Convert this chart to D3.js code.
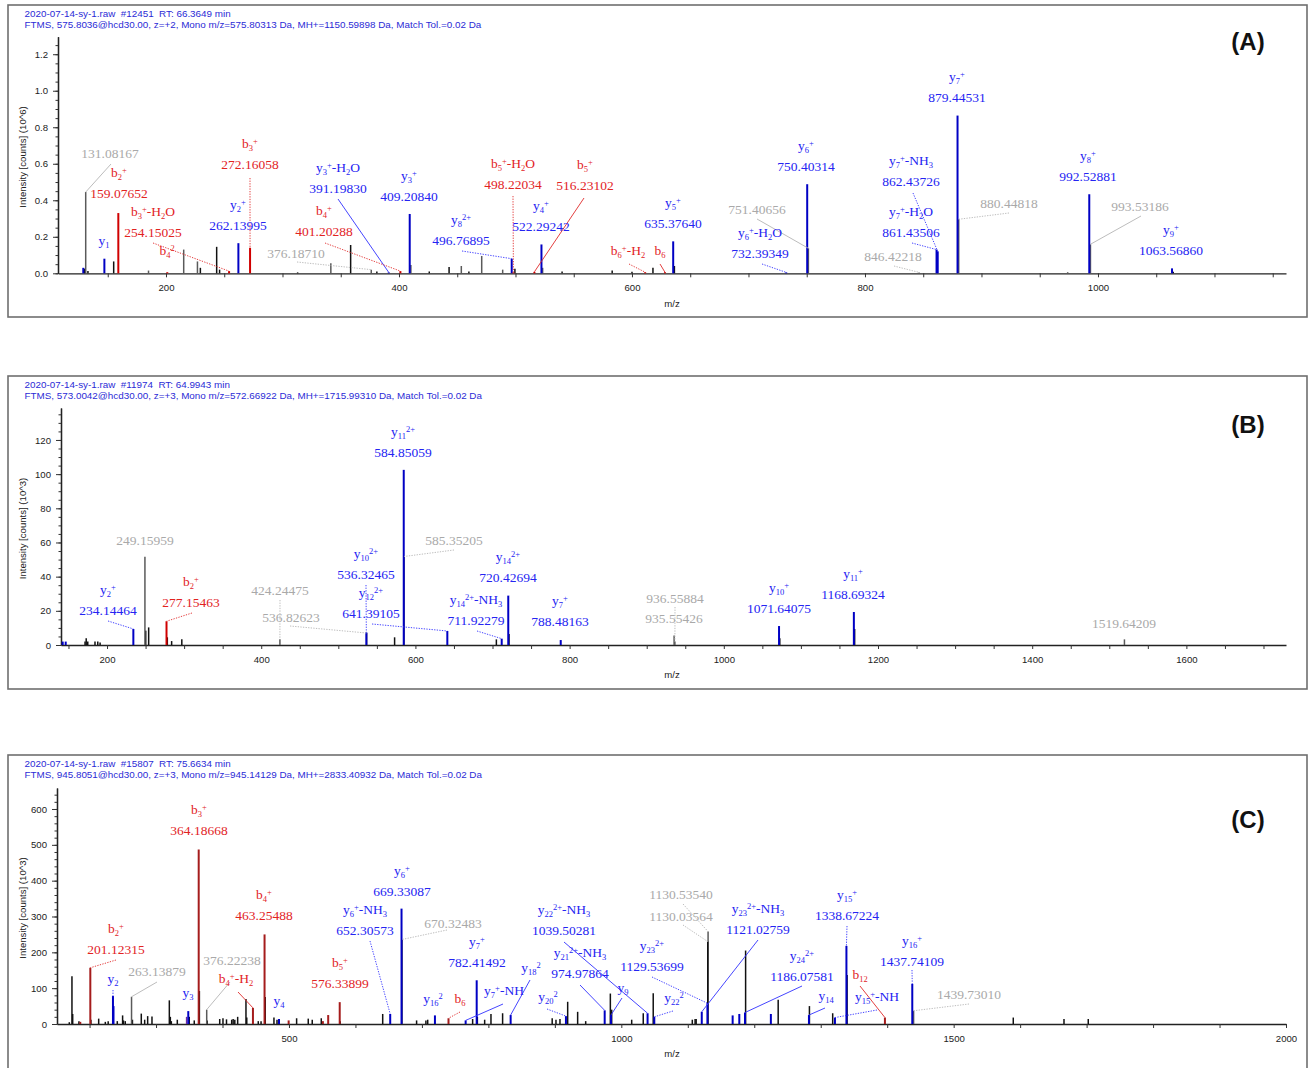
<!DOCTYPE html>
<html>
<head>
<meta charset="utf-8">
<script src="https://cdn.jsdelivr.net/npm/d3@7"></script>
<style>
  body { margin: 0; background: #fff; }
  svg { display: block; }
  .hdr { white-space: pre; }
</style>
</head>
<body>
<svg id="chart" width="1309" height="1068"></svg>
<script>
// ===================== Spectrum data =====================
// Ion rows: [ion name, stated m/z, m/z (when no value is printed), intensity, ion type]
// Ion types: y = y-ion, b = b-ion, g = unassigned labelled peak, o = unassigned peak, p = other match

// ---- Spectrum A (intensity in 10^6 counts) ----
const headerA = ["2020-07-14-sy-1.raw  #12451  RT: 66.3649 min",
  "FTMS, 575.8036@hcd30.00, z=+2, Mono m/z=575.80313 Da, MH+=1150.59898 Da, Match Tol.=0.02 Da"];
const xDomainA = [107.3, 1161.4];
const yDomainA = [0, 1.296];
const xTickLabelsA = [200, 400, 600, 800, 1000];
const yTickLabelsA = [0.0, 0.2, 0.4, 0.6, 0.8, 1.0, 1.2];
const ionsA = [
  ["", "131.08167", null, 0.445, "g"],
  ["b_{2}^{+}", "159.07652", null, 0.33, "b"],
  ["y_{1}", "", 147.11, 0.08, "y"],
  ["b_{3}^{+}-H_{2}O", "254.15025", null, 0.012, "b"],
  ["b_{4}^{2}", "", 201.1, 0.006, "b"],
  ["b_{3}^{+}", "272.16058", null, 0.14, "b"],
  ["y_{2}^{+}", "262.13995", null, 0.165, "y"],
  ["y_{3}^{+}-H_{2}O", "391.19830", null, 0.005, "y"],
  ["y_{3}^{+}", "409.20840", null, 0.325, "y"],
  ["b_{4}^{+}", "401.20288", null, 0.012, "b"],
  ["", "376.18710", null, 0.02, "g"],
  ["y_{8}^{2+}", "496.76895", null, 0.08, "y"],
  ["b_{5}^{+}-H_{2}O", "498.22034", null, 0.005, "b"],
  ["b_{5}^{+}", "516.23102", null, 0.008, "b"],
  ["y_{4}^{+}", "522.29242", null, 0.158, "y"],
  ["b_{6}^{+}-H_{2}", "", 611.3, 0.006, "b"],
  ["b_{6}", "", 628.3, 0.006, "b"],
  ["y_{5}^{+}", "635.37640", null, 0.175, "y"],
  ["y_{6}^{+}", "750.40314", null, 0.488, "y"],
  ["", "751.40656", null, 0.137, "g"],
  ["y_{6}^{+}-H_{2}O", "732.39349", null, 0.005, "y"],
  ["", "846.42218", null, 0.005, "g"],
  ["y_{7}^{+}-NH_{3}", "862.43726", null, 0.12, "y"],
  ["y_{7}^{+}-H_{2}O", "861.43506", null, 0.13, "y"],
  ["y_{7}^{+}", "879.44531", null, 0.864, "y"],
  ["", "880.44818", null, 0.296, "g"],
  ["y_{8}^{+}", "992.52881", null, 0.433, "y"],
  ["", "993.53186", null, 0.159, "g"],
  ["y_{9}^{+}", "1063.56860", null, 0.027, "y"]
];
// unlabelled peaks: [m/z, intensity, ion type]
const peaksA = [
  [129, 0.03, "y"], [130.2, 0.025, "o"], [133, 0.012, "o"], [155.1, 0.065, "o"], [185, 0.015, "g"],
  [215.2, 0.13, "g"], [227, 0.065, "g"], [229.5, 0.03, "o"], [243.5, 0.145, "o"], [246, 0.02, "o"],
  [313, 0.005, "o"], [341.5, 0.055, "g"], [358.5, 0.155, "o"], [381, 0.01, "o"], [410.2, 0.045, "g"],
  [426, 0.01, "o"], [443, 0.035, "o"], [453.5, 0.04, "g"], [460, 0.01, "o"], [471, 0.095, "g"],
  [489, 0.02, "g"], [499.5, 0.025, "o"], [523.3, 0.03, "g"], [540, 0.01, "o"], [583, 0.015, "o"],
  [600, 0.008, "o"], [618, 0.03, "o"], [636.4, 0.04, "o"], [974, 0.006, "g"], [1064.6, 0.008, "o"]
];

// ---- Spectrum B (intensity in 10^3 counts) ----
const headerB = ["2020-07-14-sy-1.raw  #11974  RT: 64.9943 min",
  "FTMS, 573.0042@hcd30.00, z=+3, Mono m/z=572.66922 Da, MH+=1715.99310 Da, Match Tol.=0.02 Da"];
const xDomainB = [140.3, 1729.2];
const yDomainB = [0, 138.7];
const xTickLabelsB = [200, 400, 600, 800, 1000, 1200, 1400, 1600];
const yTickLabelsB = [0, 20, 40, 60, 80, 100, 120];
const ionsB = [
  ["y_{2}^{+}", "234.14464", null, 9.4, "y"],
  ["", "249.15959", null, 51.7, "g"],
  ["b_{2}^{+}", "277.15463", null, 13.9, "b"],
  ["", "424.24475", null, 3.3, "g"],
  ["", "536.82623", null, 7, "g"],
  ["y_{10}^{2+}", "536.32465", null, 7.4, "y"],
  ["", "585.35205", null, 51.8, "g"],
  ["y_{11}^{2+}", "584.85059", null, 102.5, "y"],
  ["y_{12}^{2+}", "641.39105", null, 8.2, "y"],
  ["y_{14}^{2+}", "720.42694", null, 28.9, "y"],
  ["y_{14}^{2+}-NH_{3}", "711.92279", null, 3.7, "y"],
  ["y_{7}^{+}", "788.48163", null, 2.9, "y"],
  ["", "936.55884", null, 2, "g"],
  ["", "935.55426", null, 5.5, "g"],
  ["y_{10}^{+}", "1071.64075", null, 11.1, "y"],
  ["y_{11}^{+}", "1168.69324", null, 19.3, "y"],
  ["", "1519.64209", null, 3.3, "g"]
];
const peaksB = [
  [142.5, 2, "y"], [146.4, 2, "y"], [171.5, 2, "o"], [173, 4, "o"], [175, 2, "o"], [184.4, 2, "o"],
  [188, 2, "o"], [191, 1.5, "o"], [250.2, 8.4, "o"], [254, 10.3, "o"], [278.2, 4.5, "o"],
  [283.8, 2.3, "o"], [297, 3.3, "o"], [573, 4.5, "o"], [705, 3.3, "o"], [721.4, 6.4, "o"],
  [1072.6, 4, "o"], [1169.7, 9.4, "o"]
];

// ---- Spectrum C (intensity in 10^3 counts) ----
const headerC = ["2020-07-14-sy-1.raw  #15807  RT: 75.6634 min",
  "FTMS, 945.8051@hcd30.00, z=+3, Mono m/z=945.14129 Da, MH+=2833.40932 Da, Match Tol.=0.02 Da"];
const xDomainC = [151, 2000];
const yDomainC = [0, 658.6];
const xTickLabelsC = [500, 1000, 1500, 2000];
const yTickLabelsC = [0, 100, 200, 300, 400, 500, 600];
const ionsC = [
  ["b_{3}^{+}", "364.18668", null, 487, "b"],
  ["b_{2}^{+}", "201.12315", null, 157, "b"],
  ["", "263.13879", null, 76, "g"],
  ["y_{2}", "", 235.2, 78, "y"],
  ["", "376.22238", null, 40, "g"],
  ["y_{3}", "", 348.5, 36, "y"],
  ["b_{4}^{+}-H_{2}", "", 445.8, 45, "b"],
  ["b_{4}^{+}", "463.25488", null, 250, "b"],
  ["y_{4}", "", 485, 14, "y"],
  ["b_{5}^{+}", "576.33899", null, 61, "b"],
  ["y_{6}^{+}-NH_{3}", "652.30573", null, 28, "y"],
  ["y_{6}^{+}", "669.33087", null, 322, "y"],
  ["", "670.32483", null, 236, "g"],
  ["y_{7}^{+}", "782.41492", null, 122, "y"],
  ["y_{16}^{2}", "", 719.6, 24, "y"],
  ["b_{6}", "", 740, 16, "b"],
  ["y_{7}^{+}-NH", "", 765.8, 10, "y"],
  ["y_{18}^{2}", "", 833.5, 25, "y"],
  ["y_{20}^{2}", "", 916.7, 22, "y"],
  ["y_{22}^{2+}-NH_{3}", "1039.50281", null, 30, "y"],
  ["y_{21}^{2+}-NH_{3}", "974.97864", null, 38, "y"],
  ["y_{9}", "", 984.4, 25, "y"],
  ["y_{23}^{2+}", "1129.53699", null, 58, "y"],
  ["y_{22}^{2}", "", 1049.6, 20, "y"],
  ["", "1130.53540", null, 258, "g"],
  ["", "1130.03564", null, 230, "o"],
  ["y_{23}^{2+}-NH_{3}", "1121.02759", null, 34, "y"],
  ["y_{24}^{2+}", "1186.07581", null, 32, "y"],
  ["y_{14}", "", 1282.3, 25, "y"],
  ["y_{15}^{+}", "1338.67224", null, 218, "y"],
  ["b_{12}", "", 1396.6, 18, "b"],
  ["y_{15}^{+}-NH", "", 1321.4, 18, "y"],
  ["y_{16}^{+}", "1437.74109", null, 112, "y"],
  ["", "1439.73010", null, 37, "g"]
];
const peaksC = [
  [169.5, 5, "o"], [173.5, 133, "o"], [174.6, 28, "o"], [184, 8, "o"], [186, 6, "b"], [202, 12, "o"],
  [213.7, 15, "o"], [223.7, 6, "o"], [228, 8, "o"], [236, 50, "y"], [241.7, 8, "o"], [249.7, 24, "o"],
  [251, 10, "o"], [253.7, 8, "o"], [264.5, 12, "o"], [277.8, 29, "o"], [282.9, 12, "o"], [287.4, 22, "o"],
  [293.9, 21, "o"], [320, 66, "o"], [321.5, 20, "o"], [323, 8, "o"], [332, 12, "o"], [346, 20, "p"],
  [350, 20, "o"], [357.5, 10, "o"], [365.2, 92, "o"], [377, 10, "o"], [395.8, 14, "o"], [400.7, 16, "o"],
  [406, 13, "o"], [413.8, 12, "o"], [416, 14, "o"], [418.5, 12, "o"], [422.8, 20, "o"], [435.3, 70, "o"],
  [436.5, 18, "o"], [453.8, 8, "o"], [458, 8, "o"], [464.3, 75, "o"], [477.4, 18, "o"], [482, 12, "o"],
  [499.5, 10, "b"], [511.5, 16, "o"], [529, 15, "o"], [535, 12, "o"], [548.6, 16, "o"], [551, 8, "b"],
  [559, 25, "b"], [577, 8, "o"], [641, 28, "o"], [692, 10, "o"], [706, 10, "o"], [708.7, 12, "o"],
  [776.3, 14, "o"], [783.4, 20, "o"], [794.4, 12, "o"], [803.9, 28, "o"], [821.4, 30, "o"], [896, 16, "o"],
  [901.7, 12, "o"], [907.7, 14, "o"], [919.3, 62, "o"], [934.3, 34, "o"], [946.4, 8, "o"], [983.5, 85, "o"],
  [985.5, 40, "o"], [1015.6, 12, "o"], [1033, 30, "o"], [1048, 86, "o"], [1106.8, 12, "o"], [1111, 14, "o"],
  [1112.6, 14, "o"], [1167.5, 24, "y"], [1177.5, 28, "y"], [1187, 205, "o"], [1225, 28, "y"], [1236, 68, "o"],
  [1283, 50, "o"], [1318, 30, "o"], [1339.67, 137, "o"], [1589.7, 18, "o"], [1666, 14, "o"], [1702.5, 14, "o"]
];

// ===================== Layout =====================
// annotation placement per ion row: [label centre x, first line centre y, leader start x, leader start y, dotted]
const placeA = [
  [110,153,111,164,0],[119,177],[104,245],[153,216,153,243,1],[167,255],[250,148,250,178,1],
  [238,209],[338,172,338,199,0],[409,180],[324,215,325,243,1],[296,253,297,262,1],[461,224,462,251,1],
  [513,168,513,196,1],[585,169,584,198,0],[541,210],[628,255,629,264,1],[660,255,660,264,0],[673,207],
  [806,150],[757,209,757,219,0],[760,237,762,264,1],[893,256,894,266,1],[911,165,913,193,1],
  [911,216,912,243,1],[957,81],[1009,203,1009,213,1],[1088,160],[1140,206,1141,216,0],[1171,234]
];
const placeB = [
  [108,594,108,621,1],[145,540],[191,586,192,613,1],[280,590,280,600,1],[291,617,290,626,1],
  [366,558,366,585,1],[454,540,454,550,1],[403,436],[371,597,372,624,1],[508,561],[476,604,477,631,1],
  [560,605],[675,598,675,607,1],[674,618],[779,592],[853,578],[1124,623]
];
const placeC = [
  [199,814],[116,933,116,960,1],[157,971,157,982,0],[113,983,113,990,1],[232,960,230,982,0],[188,997],
  [236,983,238,992,0],[264,899],[279,1005],[340,967],[365,914,370,941,1],[402,875],[453,923,447,930,1],
  [477,946],[433,1003],[460,1003,460,1012,1],[504,995,503,1004,0],[531,972,530,980,0],[548,1001,547,1009,1],
  [564,914,564,942,0],[580,957,580,985,0],[623,992,622,998,0],[652,950,652,977,1],[674,1002,673,1011,1],
  [681,894,683,904,1],[681,916,683,925,1],[758,913,758,940,0],[802,960,802,986,0],[826,1000,825,1008,0],
  [847,899,847,926,1],[860,979,860,986,0],[877,1001,877,1010,1],[912,945,912,970,1],[969,994,969,1004,1]
];

const panels = [
  { tag: "(A)", header: headerA, xDomain: xDomainA, yDomain: yDomainA, xLabels: xTickLabelsA, yLabels: yTickLabelsA,
    ions: ionsA, peaks: peaksA, place: placeA, unit: "(10^6)", tagY: 42,
    frame: [8, 5, 1299, 312], xRange: [58, 1286], yRange: [273.3, 36.7],
    xMinor: 50, yMinor: 0.05, yFmt: ".1f", bColor: "#d00000" },
  { tag: "(B)", header: headerB, xDomain: xDomainB, yDomain: yDomainB, xLabels: xTickLabelsB, yLabels: yTickLabelsB,
    ions: ionsB, peaks: peaksB, place: placeB, unit: "(10^3)", tagY: 425,
    frame: [8, 376, 1299, 313], xRange: [61, 1286], yRange: [645, 408],
    xMinor: 50, yMinor: 5, yFmt: "d", bColor: "#d00000" },
  { tag: "(C)", header: headerC, xDomain: xDomainC, yDomain: yDomainC, xLabels: xTickLabelsC, yLabels: yTickLabelsC,
    ions: ionsC, peaks: peaksC, place: placeC, unit: "(10^3)", tagY: 820,
    frame: [8, 755, 1299, 330], xRange: [57, 1286], yRange: [1024, 788],
    xMinor: 100, yMinor: 20, yFmt: "d", bColor: "#a51c1c" }
];

const labelColor = { y: "#2424f2", b: "#e2231f", g: "#a9a9a9", o: "#a9a9a9", p: "#2424f2" };
const leaderColor = { y: "#3030ff", b: "#e02a2a", g: "#b4b4b4", o: "#b4b4b4", p: "#3030ff" };
const drawRank = { o: 0, g: 0, p: 1, b: 2, y: 2 };

const svg = d3.select("#chart");
const sans = "Arial, 'Liberation Sans', sans-serif";
const serif = "'Times New Roman', 'Liberation Serif', serif";

// write text with _{sub} and ^{sup} markup as tspans
function richText(sel, str) {
  const re = /_\{([^}]*)\}|\^\{([^}]*)\}|([^_^]+)/g;
  let m, shift = 0;
  while ((m = re.exec(str)) !== null) {
    let target, txt, small = true;
    if (m[1] !== undefined) { target = 2.5; txt = m[1]; }
    else if (m[2] !== undefined) { target = -4.5; txt = m[2]; }
    else { target = 0; txt = m[3]; small = false; }
    sel.append("tspan")
      .attr("dy", target - shift)
      .attr("font-size", small ? 8.5 : null)
      .text(txt);
    shift = target;
  }
}

panels.forEach(p => {
  const [fx, fy, fw, fh] = p.frame;
  svg.append("rect").attr("x", fx).attr("y", fy).attr("width", fw).attr("height", fh)
    .attr("fill", "none").attr("stroke", "#6f6f6f").attr("stroke-width", 1.6);

  // header lines
  p.header.forEach((line, i) => {
    svg.append("text").attr("class", "hdr")
      .attr("x", 24.5).attr("y", fy + 11.8 + i * 11)
      .attr("font-family", sans).attr("font-size", 9.85).attr("fill", "#2b2bd6")
      .text(line);
  });

  const x = d3.scaleLinear().domain(p.xDomain).range(p.xRange);
  const y = d3.scaleLinear().domain(p.yDomain).range(p.yRange);
  const y0 = p.yRange[0];

  // x axis: minor ticks everywhere, numbers at the labelled positions
  const xTicks = d3.range(Math.ceil(p.xDomain[0] / p.xMinor) * p.xMinor, p.xDomain[1] + 0.01, p.xMinor);
  const xAxis = d3.axisBottom(x).tickValues(xTicks).tickSize(4).tickSizeOuter(0).tickPadding(7)
    .tickFormat(d => p.xLabels.some(v => Math.abs(v - d) < 1e-6) ? d3.format("d")(d) : "");
  const gx = svg.append("g").attr("transform", `translate(0,${y0})`).call(xAxis);

  // y axis: minor ticks, then major labelled ticks
  const yMinorTicks = d3.range(0, p.yDomain[1] + 1e-9, p.yMinor);
  const gyMinor = svg.append("g").attr("transform", `translate(${p.xRange[0]},0)`)
    .call(d3.axisLeft(y).tickValues(yMinorTicks).tickSize(2.5).tickSizeOuter(0).tickFormat(""));
  const gy = svg.append("g").attr("transform", `translate(${p.xRange[0]},0)`)
    .call(d3.axisLeft(y).tickValues(p.yLabels).tickSize(5).tickSizeOuter(0).tickPadding(5)
      .tickFormat(d3.format(p.yFmt)));

  [gx, gy, gyMinor].forEach(g => {
    g.select(".domain").attr("stroke", "#222").attr("stroke-width", 1.3);
    g.selectAll(".tick line").attr("stroke", "#333").attr("stroke-width", 1);
    g.selectAll(".tick text").attr("font-family", sans).attr("font-size", 9.6).attr("fill", "#222");
  });

  // axis titles
  const yMid = (p.yRange[0] + p.yRange[1]) / 2 + 2;
  svg.append("text")
    .attr("transform", `translate(23,${yMid}) rotate(-90)`)
    .attr("text-anchor", "middle").attr("dy", "0.35em")
    .attr("font-family", sans).attr("font-size", 9.6).attr("fill", "#222")
    .text(`Intensity [counts] ${p.unit}`);
  svg.append("text")
    .attr("x", 672).attr("y", y0 + 30).attr("dy", "0.35em").attr("text-anchor", "middle")
    .attr("font-family", sans).attr("font-size", 9.6).attr("fill", "#222")
    .text("m/z");

  // panel tag
  svg.append("text")
    .attr("x", 1248).attr("y", p.tagY).attr("dy", "0.35em").attr("text-anchor", "middle")
    .attr("font-family", sans).attr("font-weight", "bold").attr("font-size", 24).attr("fill", "#111")
    .text(p.tag);

  // peaks
  const barColor = { y: "#0000c4", b: p.bColor, g: "#5a5a5a", o: "#111", p: "#6a2aa0" };
  const ionRows = p.ions.map((r, i) => ({
    ion: r[0], mass: r[1], mz: r[1] ? +r[1] : r[2], I: r[3], kind: r[4], place: p.place[i]
  }));
  const bars = p.peaks.map(r => ({ mz: r[0], I: r[1], kind: r[2] }))
    .concat(ionRows.map(d => ({ mz: d.mz, I: d.I, kind: d.kind })))
    .sort((a, b) => drawRank[a.kind] - drawRank[b.kind]);

  svg.append("g").selectAll("line").data(bars).join("line")
    .attr("x1", d => x(d.mz)).attr("x2", d => x(d.mz))
    .attr("y1", y(0)).attr("y2", d => y(d.I))
    .attr("stroke", d => barColor[d.kind])
    .attr("stroke-width", d => (d.kind === "y" || d.kind === "b") ? 2 : 1.5);

  // leader lines from annotations to peak tops
  svg.append("g").selectAll("line").data(ionRows.filter(d => d.place.length > 2)).join("line")
    .attr("x1", d => d.place[2]).attr("y1", d => d.place[3])
    .attr("x2", d => x(d.mz)).attr("y2", d => y(d.I))
    .attr("stroke", d => leaderColor[d.kind])
    .attr("stroke-width", 0.9)
    .attr("stroke-dasharray", d => d.place[4] ? "1.3,1.3" : null);

  // annotations
  const ann = svg.append("g").attr("font-family", serif).attr("font-size", 13.5);
  ionRows.forEach(d => {
    const [cx, cy] = d.place;
    const col = labelColor[d.kind];
    let lineY = cy;
    if (d.ion) {
      const t = ann.append("text").attr("x", cx).attr("y", lineY).attr("dy", "0.35em")
        .attr("text-anchor", "middle").attr("fill", col);
      richText(t, d.ion);
      lineY += 16.7;
    }
    if (d.mass) {
      ann.append("text").attr("x", cx).attr("y", lineY).attr("dy", "0.35em")
        .attr("text-anchor", "middle").attr("fill", col).text(d.mass);
    }
  });
});
</script>
</body>
</html>
